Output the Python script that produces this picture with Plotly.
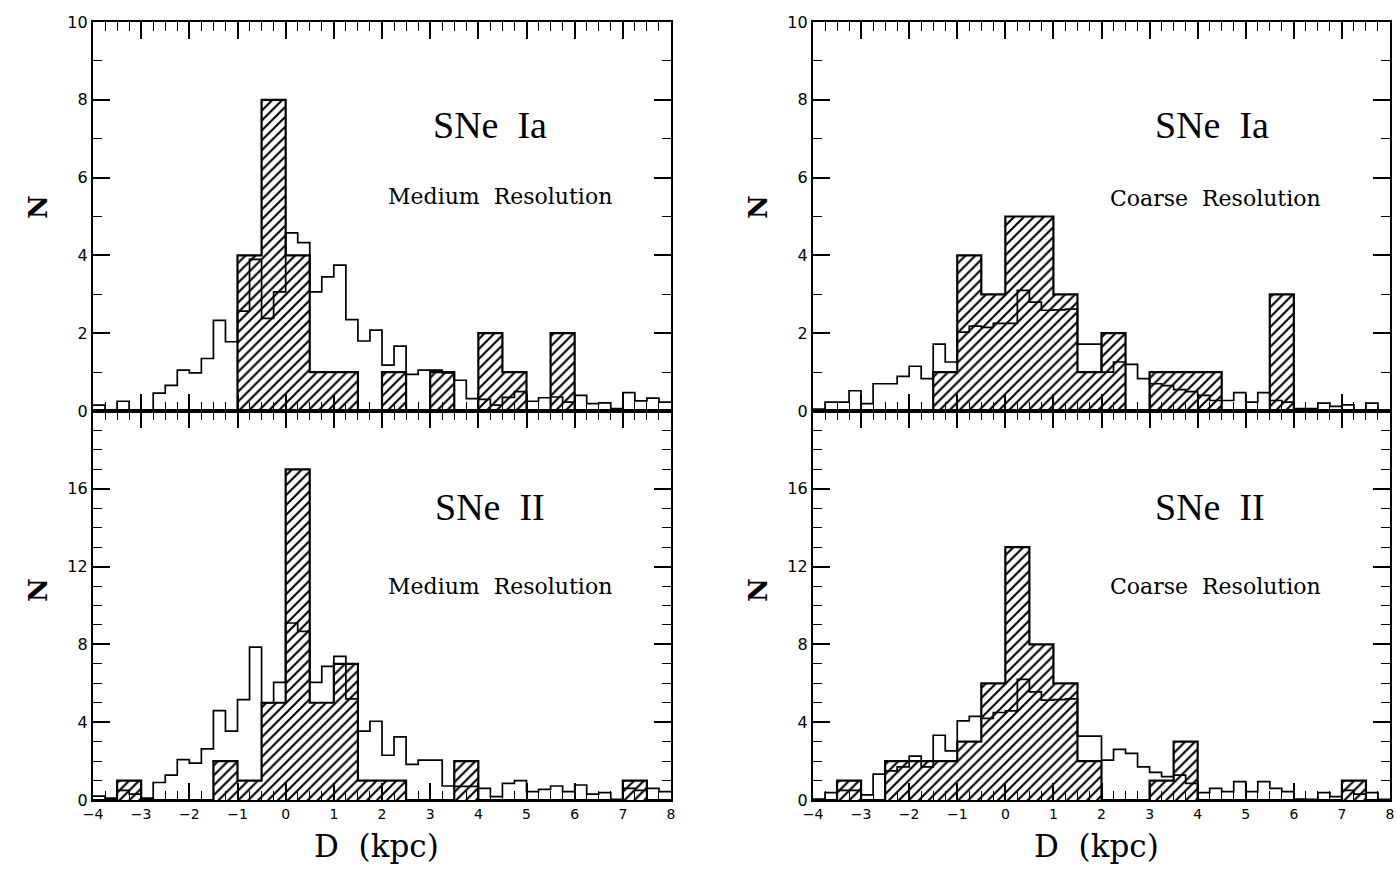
import plotly.graph_objects as go

# ---------------- data ----------------
x_start = -4.0
fine_width = 0.25     # model (open) histogram bin width, kpc
coarse_width = 0.5    # observed (hatched) histogram bin width, kpc

# Top-left: SNe Ia, Medium Resolution
ia_med_model = [0.15, 0.0, 0.25, 0.03, 0.03, 0.46, 0.66, 1.05, 0.98, 1.35, 2.33, 1.78,
                2.57, 3.9, 2.38, 3.06, 4.58, 4.33, 3.06, 3.45, 3.75, 2.35, 1.8, 2.08,
                1.18, 1.67, 0.94, 1.05, 1.05, 0.98, 0.79, 0.32, 0.3, 0.15, 0.35, 0.5,
                0.25, 0.34, 0.36, 0.23, 0.4, 0.19, 0.21, 0.06, 0.47, 0.26, 0.33, 0.23]
ia_med_obs = [0, 0, 0, 0, 0, 0, 4, 8, 4, 1, 1, 0, 1, 0, 1, 0, 2, 1, 0, 2, 0, 0, 0, 0]

# Bottom-left: SNe II, Medium Resolution
ii_med_model = [0.2, 0.1, 0.5, 0.3, 0.1, 0.9, 1.28, 2.08, 1.9, 2.63, 4.6, 3.54,
                5.16, 7.86, 5.0, 6.05, 9.1, 8.67, 6.05, 6.87, 7.38, 5.2, 3.54, 4.05,
                2.3, 3.25, 1.83, 2.05, 2.05, 0.72, 0.7, 0.7, 0.6, 0.17, 0.85, 1.0,
                0.43, 0.55, 0.72, 0.43, 0.77, 0.3, 0.38, 0.03, 0.6, 0.5, 0.6, 0.43]
ii_med_obs = [0, 1, 0, 0, 0, 2, 1, 5, 17, 5, 7, 1, 1, 0, 0, 2, 0, 0, 0, 0, 0, 0, 1, 0]

# Top-right: SNe Ia, Coarse Resolution
ia_coa_model = [0.05, 0.23, 0.23, 0.52, 0.19, 0.7, 0.7, 0.89, 1.15, 0.83, 1.72, 1.26,
                2.03, 2.18, 2.15, 2.25, 2.25, 3.1, 2.8, 2.59, 2.6, 2.62, 1.72, 1.72,
                1.0, 1.26, 1.2, 0.83, 0.7, 0.65, 0.55, 0.5, 0.4, 0.27, 0.27, 0.47,
                0.23, 0.47, 0.27, 0.23, 0.06, 0.06, 0.2, 0.12, 0.16, 0.03, 0.2, 0.03]
ia_coa_obs = [0, 0, 0, 0, 0, 1, 4, 3, 5, 5, 3, 1, 2, 0, 1, 1, 1, 0, 0, 3, 0, 0, 0, 0]

# Bottom-right: SNe II, Coarse Resolution
ii_coa_model = [0.05, 0.38, 0.5, 0.5, 0.26, 1.33, 1.5, 1.7, 2.26, 1.7, 3.33, 2.53,
                4.07, 4.3, 4.2, 4.5, 4.58, 6.2, 5.56, 5.13, 5.16, 5.2, 3.28, 3.28,
                2.05, 2.6, 2.4, 1.7, 1.42, 1.2, 1.28, 0.85, 0.38, 0.6, 0.43, 0.94,
                0.43, 0.94, 0.6, 0.43, 0.05, 0.03, 0.38, 0.17, 0.5, 0.3, 0.38, 0.03]
ii_coa_obs = [0, 1, 0, 2, 2, 2, 3, 6, 13, 8, 6, 2, 0, 0, 1, 3, 0, 0, 0, 0, 0, 0, 1, 0]

x_ticks = [-4, -3, -2, -1, 0, 1, 2, 3, 4, 5, 6, 7, 8]
ia_yticks = [0, 2, 4, 6, 8, 10]
ii_yticks = [0, 4, 8, 12, 16]

panels = [
    # (model, obs, xaxis, yaxis, title, subtitle)
    (ia_med_model, ia_med_obs, "x", "y", "SNe\u00a0\u00a0Ia", "Medium\u00a0\u00a0Resolution"),
    (ii_med_model, ii_med_obs, "x2", "y2", "SNe\u00a0\u00a0II", "Medium\u00a0\u00a0Resolution"),
    (ia_coa_model, ia_coa_obs, "x3", "y3", "SNe\u00a0\u00a0Ia", "Coarse\u00a0\u00a0Resolution"),
    (ii_coa_model, ii_coa_obs, "x4", "y4", "SNe\u00a0\u00a0II", "Coarse\u00a0\u00a0Resolution"),
]

# ---------------- figure ----------------
W, H = 1397, 890
fig = go.Figure()

for model, obs, xa, ya, title, sub in panels:
    centers = [x_start + coarse_width * (i + 0.5) for i in range(len(obs))]
    edges_c = [x_start + coarse_width * i for i in range(len(obs) + 1)]
    edges_f = [x_start + fine_width * i for i in range(len(model) + 1)]
    # hatched observed histogram
    fig.add_trace(go.Bar(
        x=centers, y=obs, width=coarse_width, xaxis=xa, yaxis=ya,
        marker=dict(color="white", line=dict(width=0),
                    pattern=dict(shape="/", fgcolor="black", bgcolor="white",
                                 size=7, solidity=0.3)),
        showlegend=False, hoverinfo="skip"))
    # outline of observed histogram
    fig.add_trace(go.Scatter(
        x=edges_c, y=list(obs) + [obs[-1]], xaxis=xa, yaxis=ya, mode="lines",
        line=dict(shape="hv", color="black", width=2.2), showlegend=False, hoverinfo="skip"))
    # open model histogram
    fig.add_trace(go.Scatter(
        x=edges_f, y=list(model) + [model[-1]], xaxis=xa, yaxis=ya, mode="lines",
        line=dict(shape="hv", color="black", width=1.7), showlegend=False, hoverinfo="skip"))

xl = [93 / W, 671 / W]
xr = [813 / W, 1390 / W]
yb = [(H - 800) / H, (H - 411) / H]
yt_ = [(H - 411) / H, (H - 22) / H]

xtickfont = dict(family="DejaVu Sans", size=14, color="black")
ytickfont = dict(family="DejaVu Sans", size=16, color="black")


def xaxis(domain, anchor, labels):
    return dict(domain=domain, anchor=anchor, range=[-4, 8], tickvals=x_ticks,
                showticklabels=labels, ticks="inside", ticklen=17, tickwidth=1.6,
                minor=dict(ticks="inside", dtick=0.25, ticklen=9, tickwidth=1.3, tickcolor="black"),
                showline=True, linewidth=2.2, linecolor="black", mirror="ticks",
                showgrid=False, zeroline=False, tickfont=xtickfont, tickcolor="black",
                automargin=False)


def yaxis(domain, anchor, yr, tv):
    return dict(domain=domain, anchor=anchor, range=yr, tickvals=tv,
                ticks="inside", ticklen=17, tickwidth=1.6,
                minor=dict(ticks="inside", dtick=1, ticklen=9, tickwidth=1.3, tickcolor="black"),
                showline=True, linewidth=2.2, linecolor="black", mirror="ticks",
                showgrid=False, zeroline=False, tickfont=ytickfont, tickcolor="black",
                automargin=False)


fig.update_layout(
    template="none",
    width=W, height=H, margin=dict(l=0, r=0, t=0, b=0, autoexpand=False),
    paper_bgcolor="white", plot_bgcolor="white", barmode="overlay", bargap=0,
    showlegend=False,
    xaxis=xaxis(xl, "y", False), yaxis=yaxis(yt_, "x", [0, 10], ia_yticks),
    xaxis2=xaxis(xl, "y2", True), yaxis2=yaxis(yb, "x2", [0, 20], ii_yticks),
    xaxis3=xaxis(xr, "y3", False), yaxis3=yaxis(yt_, "x3", [0, 10], ia_yticks),
    xaxis4=xaxis(xr, "y4", True), yaxis4=yaxis(yb, "x4", [0, 20], ii_yticks),
)

ann = []


def P(px, py):
    return px / W, 1 - py / H


text_pos = [
    ((490, 125), (500, 197)),
    ((490, 507), (500, 586)),
    ((1212, 125), (1215, 198)),
    ((1210, 507), (1215, 586)),
]
for (model, obs, xa, ya, title, sub), (tp, sp) in zip(panels, text_pos):
    x, y = P(*tp)
    ann.append(dict(x=x, y=y, xref="paper", yref="paper", text=title, showarrow=False,
                    xanchor="center", yanchor="middle",
                    font=dict(family="Liberation Serif", size=38, color="black")))
    x, y = P(*sp)
    ann.append(dict(x=x, y=y, xref="paper", yref="paper", text=sub, showarrow=False,
                    xanchor="center", yanchor="middle",
                    font=dict(family="DejaVu Serif", size=22, color="black")))

for px, py in [(38, 207), (38, 590), (758, 207), (758, 590)]:
    x, y = P(px, py)
    ann.append(dict(x=x, y=y, xref="paper", yref="paper", text="<b>N</b>", showarrow=False,
                    xanchor="center", yanchor="middle", textangle=-90,
                    font=dict(family="DejaVu Serif", size=26, color="black")))

for px in (376, 1096):
    x, y = P(px, 846)
    ann.append(dict(x=x, y=y, xref="paper", yref="paper", text="D\u00a0\u00a0(kpc)", showarrow=False,
                    xanchor="center", yanchor="middle",
                    font=dict(family="DejaVu Serif", size=31, color="black")))

fig.update_layout(annotations=ann)
fig.write_html("out.html", config={"displayModeBar": False},
               post_script="document.body.style.margin='0px';document.body.style.overflow='hidden';")
